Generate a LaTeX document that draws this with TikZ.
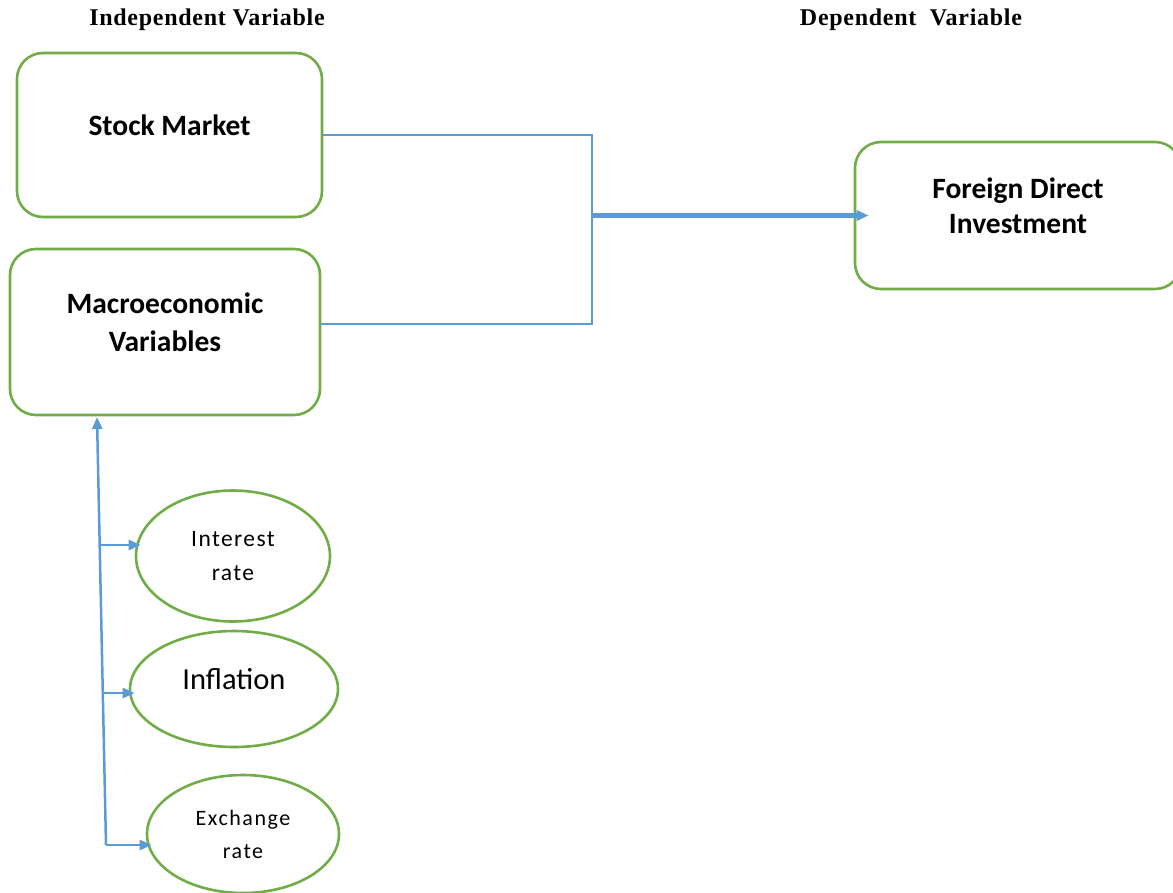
\documentclass[tikz,border=0pt]{standalone}
\usepackage{fontspec}
\setmainfont{Carlito}
\newfontfamily\headfont{Liberation Serif}
\usetikzlibrary{positioning,shapes.geometric,arrows.meta}
\definecolor{LeafGreen}{HTML}{70AD47}
\definecolor{LinkBlue}{HTML}{5B9BD5}
\tikzset{%
	block/.style={
		rectangle,
		draw=LeafGreen,
		line width=2.6pt,
		rounded corners=26pt,
		align=center,
		font=\bfseries\fontsize{29.5}{38}\selectfont
	},
	factor/.style={
		ellipse,
		draw=LeafGreen,
		line width=2.6pt,
		inner sep=0pt,
		align=center
	},
	heading/.style={ font=\headfont\bfseries\fontsize{24}{26}\selectfont\addfontfeature{LetterSpace=3} },
	link/.style={ draw=LinkBlue, line width=2.5pt },
}

\begin{document}
\begin{tikzpicture}[x=1pt, y=-1pt, >={Triangle[length=12pt,width=10pt]}]
\useasboundingbox (0,0) rectangle (1173,892);
% headings
\node[heading] (indep) at (207,20) {Independent Variable};
\node[heading] (dep) at (911,20) {Dependent\ \ Variable};

% blocks
\node[block, minimum width=305pt, minimum height=164pt] (stock) at (169.5,135) {Stock Market\\[-18pt]};
\node[block, minimum width=310pt, minimum height=166pt] (macro) at (165,332) {Macroeconomic\\Variables\\[-18pt]};
\node[block, minimum width=326pt, minimum height=147pt, font=\bfseries\fontsize{29.5}{35}\selectfont] (fdi) at (1018,215.5) {Foreign Direct\\Investment\\[-15pt]};

% factors
\node[factor, minimum width=194pt, minimum height=131pt,
	font=\fontsize{23.5}{34}\selectfont\addfontfeature{LetterSpace=6}] (rate) at (233,556) {Interest\\rate};
\node[factor, minimum width=208pt, minimum height=116pt,
	font=\fontsize{30.5}{34}\selectfont] (infl) at (234,689) {Inflation\\[-14pt]};
\node[factor, minimum width=192pt, minimum height=118pt,
	font=\fontsize{22}{33}\selectfont\addfontfeature{LetterSpace=7}] (exch) at (243,834) {Exchange\\rate};

% connections to FDI
\coordinate (join) at (592,215.5);
\draw[link] (stock.east) -| (join);
\draw[link] ([yshift=8pt]macro.east) -| (join);
\draw[link, line width=4.5pt, ->, shorten >=-15pt] (join) -- (fdi.west);

% stem to macroeconomic variables
\coordinate (tail) at (106,845);
\coordinate (stem) at (97,417);
\draw[link, ->] (tail) -- (stem);
\foreach \f/\bx/\by in {rate/101/545, infl/103/693, exch/106/845} {
	\coordinate (b-\f) at (\bx,\by);
	\draw[link, ->, shorten >=-6pt] (b-\f) -- (b-\f -| \f.west);
}
\end{tikzpicture}
\end{document}
